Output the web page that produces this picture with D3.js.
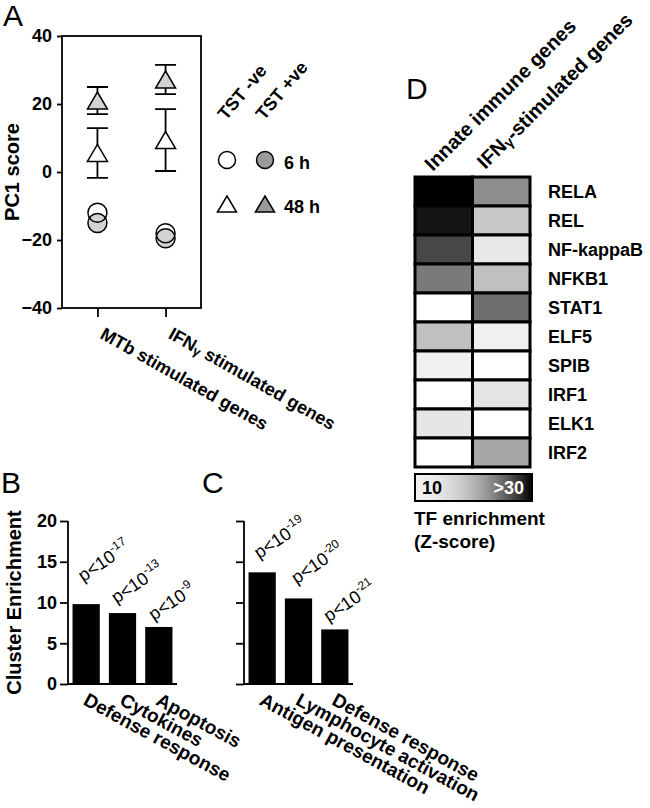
<!DOCTYPE html>
<html><head><meta charset="utf-8">
<script src="https://cdn.jsdelivr.net/npm/d3@7"></script>
<style>body{margin:0;background:#fff}svg{display:block}</style>
</head><body><svg id="c" width="650" height="808"></svg>
<script>
// ---------- Panel A data ----------
const groupsA = ["MTb stimulated genes", "IFNγ stimulated genes"];
const neg6h = [-12, -18];
const pos6h = [-15, -19.5];
const neg48h = [5.6, 9.4];
const neg48hErr = [7.3, 9.1];
const pos48h = [21, 27.2];
const pos48hErr = [4, 4.3];
const ticksA = [-40, -20, 0, 20, 40];
const legendCols = ["TST -ve", "TST +ve"];
const legendRows = ["6 h", "48 h"];

// ---------- Panel B / C data ----------
const catsB = ["Defense response", "Cytokines", "Apoptosis"];
const valsB = [9.8, 8.7, 7.0];
const pExpB = ["-17", "-13", "-9"];
const catsC = ["Antigen presentation", "Lymphocyte activation", "Defense response"];
const valsC = [13.7, 10.5, 6.7];
const pExpC = ["-19", "-20", "-21"];
const ticksBC = [0, 5, 10, 15, 20];

// ---------- Panel D data ----------
const tfs = ["RELA", "REL", "NF-kappaB", "NFKB1", "STAT1", "ELF5", "SPIB", "IRF1", "ELK1", "IRF2"];
const geneSets = ["Innate immune genes", "IFNγ-stimulated genes"];
const zInnate = [32, 29.1, 26.8, 24.0, 5, 18.9, 10, 5, 14.1, 5];
const zIfng = [22.8, 18.2, 13.7, 18.9, 24.7, 10, 5, 14.5, 5, 21];
const legendTicks = ["10", ">30"];

// ---------- drawing ----------
const F = '"Liberation Sans", Arial, Helvetica, sans-serif';
const svg = d3.select("#c").attr("font-family", F);
const SW = 1.8;

function richText(sel, str, size) {
  const parts = str.split("γ");
  sel.append("tspan").text(parts[0]);
  if (parts.length > 1) {
    sel.append("tspan").attr("font-size", size * 0.72).attr("dy", size * 0.1).text("γ");
    sel.append("tspan").attr("dy", -size * 0.1).text(parts[1]);
  }
}
function tri(cx, cy, w, h) {
  return `M${cx - w / 2},${cy + h / 2}L${cx},${cy - h / 2}L${cx + w / 2},${cy + h / 2}Z`;
}
function panelLabel(t, x, y) {
  svg.append("text").attr("x", x).attr("y", y).attr("font-size", 30).attr("fill", "#000").text(t);
}

// ===== Panel A =====
panelLabel("A", 3, 26);
const yA = d3.scaleLinear().domain([-40, 40]).range([308, 36]);
const xA = d3.scalePoint().domain(groupsA).range([62, 201]).padding(0.52);
const gA = svg.append("g");
const [ax0, ax1] = xA.range();
gA.append("rect").attr("x", ax0).attr("y", yA(40)).attr("width", ax1 - ax0)
  .attr("height", yA(-40) - yA(40)).attr("fill", "none").attr("stroke", "#000").attr("stroke-width", SW);
const axA = gA.append("g").attr("transform", `translate(${ax0},0)`)
  .call(d3.axisLeft(yA).tickValues(ticksA).tickSize(5).tickPadding(5));
axA.attr("font-family", F).attr("font-size", 18).attr("font-weight", "bold");
axA.select(".domain").remove();
axA.selectAll("line").attr("stroke", "#000").attr("stroke-width", SW);
axA.selectAll("text").attr("fill", "#000");
const axAb = gA.append("g").attr("transform", `translate(0,${yA(-40)})`)
  .call(d3.axisBottom(xA).tickSize(9).tickFormat(""));
axAb.select(".domain").remove();
axAb.selectAll("line").attr("stroke", "#000").attr("stroke-width", SW);
groupsA.forEach(d => {
  const t = gA.append("text").attr("transform", `translate(${xA(d)},${yA(-40)}) rotate(29.5)`)
    .attr("x", 16).attr("y", 25).attr("font-size", 18).attr("font-weight", "bold");
  richText(t, d, 18);
});
gA.append("text").attr("transform", `translate(19,${(yA(40) + yA(-40)) / 2}) rotate(-90)`)
  .attr("text-anchor", "middle").attr("font-size", 20).attr("font-weight", "bold").text("PC1 score");

const greyPlot = "#d3d3d3", greyLeg = "#9a9a9a";
gA.selectAll(".cp").data(groupsA).join("circle").attr("cx", d => xA(d)).attr("cy", (d, i) => yA(pos6h[i]))
  .attr("r", 9.5).attr("fill", greyPlot).attr("stroke", "#000").attr("stroke-width", 1.5);
gA.selectAll(".cn").data(groupsA).join("circle").attr("cx", d => xA(d)).attr("cy", (d, i) => yA(neg6h[i]))
  .attr("r", 9.5).attr("fill", "none").attr("stroke", "#000").attr("stroke-width", 1.5);
function errBars(means, errs) {
  groupsA.forEach((d, i) => {
    const x = xA(d), lo = yA(means[i] - errs[i]), hi = yA(means[i] + errs[i]);
    gA.append("path").attr("d", `M${x},${lo}L${x},${hi}M${x - 10.5},${lo}L${x + 10.5},${lo}M${x - 10.5},${hi}L${x + 10.5},${hi}`)
      .attr("stroke", "#000").attr("stroke-width", SW).attr("fill", "none");
  });
}
errBars(neg48h, neg48hErr);
errBars(pos48h, pos48hErr);
gA.selectAll(".tn").data(groupsA).join("path").attr("d", (d, i) => tri(xA(d), yA(neg48h[i]), 20, 17))
  .attr("fill", "#fff").attr("stroke", "#000").attr("stroke-width", 1.5);
gA.selectAll(".tp").data(groupsA).join("path").attr("d", (d, i) => tri(xA(d), yA(pos48h[i]), 20, 17))
  .attr("fill", greyPlot).attr("stroke", "#000").attr("stroke-width", 1.5);

const lx = [227, 265], ly = [160, 204];
legendCols.forEach((t, i) => {
  svg.append("text").attr("transform", `translate(${lx[i] - 1},121) rotate(-50)`)
    .attr("font-size", 18).attr("font-weight", "bold").text(t);
});
lx.forEach((x, i) => {
  svg.append("circle").attr("cx", x).attr("cy", ly[0]).attr("r", 8.5)
    .attr("fill", i ? greyLeg : "#fff").attr("stroke", "#000").attr("stroke-width", 1.5);
  svg.append("path").attr("d", tri(x, ly[1], 19, 16))
    .attr("fill", i ? greyLeg : "#fff").attr("stroke", "#000").attr("stroke-width", 1.5);
});
legendRows.forEach((t, i) => {
  svg.append("text").attr("x", 284).attr("y", ly[i] + 9).attr("font-size", 18).attr("font-weight", "bold").text(t);
});

// ===== Panels B & C =====
function barPanel(cats, vals, exps, x0, x1, showLabels, pOff) {
  const y = d3.scaleLinear().domain([0, 20]).range([684, 521]);
  const x = d3.scaleBand().domain(cats).range([x0, x1]).paddingInner(0.25).paddingOuter(0.125);
  const g = svg.append("g");
  const ax = g.append("g").attr("transform", `translate(${x0},0)`)
    .call(d3.axisLeft(y).tickValues(ticksBC).tickSize(8).tickPadding(3).tickFormat(showLabels ? d3.format("d") : ""));
  ax.attr("font-family", F).attr("font-size", 18).attr("font-weight", "bold");
  ax.select(".domain").attr("d", `M0,${y(20)}V${y(0)}`).attr("stroke", "#000").attr("stroke-width", SW);
  ax.selectAll("line").attr("stroke", "#000").attr("stroke-width", SW);
  ax.selectAll("text").attr("fill", "#000");
  g.append("line").attr("x1", x0).attr("x2", x1).attr("y1", y(0)).attr("y2", y(0))
    .attr("stroke", "#000").attr("stroke-width", SW);
  g.selectAll(".bar").data(cats).join("rect").attr("x", d => x(d)).attr("width", x.bandwidth())
    .attr("y", (d, i) => y(vals[i])).attr("height", (d, i) => y(0) - y(vals[i])).attr("fill", "#000");
  cats.forEach((d, i) => {
    const cx = x(d) + x.bandwidth() / 2;
    g.append("text").attr("transform", `translate(${cx},${y(0)}) rotate(28.5)`)
      .attr("x", 6).attr("y", 19.5).attr("font-size", 19).attr("font-weight", "bold").text(d);
    const t = g.append("text").attr("transform", `translate(${cx + pOff[i][0]},${y(vals[i]) + pOff[i][1]}) rotate(-34)`)
      .attr("font-size", 18);
    t.append("tspan").text("p<10");
    t.append("tspan").attr("font-size", 12).attr("dy", -8).text(exps[i]);
  });
  return y;
}
panelLabel("B", 1, 493);
panelLabel("C", 202, 493);
const yB = barPanel(catsB, valsB, pExpB, 68, 177, true, [[-3, -22], [-6, -9], [-5, -6]]);
barPanel(catsC, valsC, pExpC, 244, 353, false, [[-3, -13], [-2, -14], [-6, -7]]);
svg.append("text").attr("transform", `translate(21,${(yB(0) + yB(20)) / 2}) rotate(-90)`)
  .attr("text-anchor", "middle").attr("font-size", 20).attr("font-weight", "bold").text("Cluster Enrichment");

// ===== Panel D =====
panelLabel("D", 406, 99);
const xD = d3.scaleBand().domain(geneSets).range([415, 530]);
const yD = d3.scaleBand().domain(tfs).range([177, 467]);
const tz = d3.scaleLinear().domain([10, 30]).range([0, 1]).clamp(true);
function cellColor(z) {
  if (z < 10) return "#fff";
  const g = Math.round(240 * (1 - Math.pow(tz(z), 2)));
  return d3.rgb(g, g, g).formatHex();
}
const gD = svg.append("g");
[zInnate, zIfng].forEach((col, j) => {
  gD.selectAll(".c" + j).data(tfs).join("rect")
    .attr("x", xD(geneSets[j])).attr("width", xD.bandwidth())
    .attr("y", d => yD(d)).attr("height", yD.bandwidth())
    .attr("fill", (d, i) => cellColor(col[i])).attr("stroke", "#000").attr("stroke-width", 3);
});
tfs.forEach(d => {
  gD.append("text").attr("x", 548).attr("y", yD(d) + yD.bandwidth() / 2 + 6.5)
    .attr("font-size", 18).attr("font-weight", "bold").text(d);
});
const hdrOff = [[-11, 172], [-16, 170]];
geneSets.forEach((d, i) => {
  const t = gD.append("text").attr("transform", `translate(${xD(d) + xD.bandwidth() / 2 + hdrOff[i][0]},${hdrOff[i][1]}) rotate(-45)`)
    .attr("font-size", 20).attr("font-weight", "bold");
  richText(t, d, 20);
});
const defs = svg.append("defs");
const grad = defs.append("linearGradient").attr("id", "gz");
d3.range(0, 1.0001, 0.05).forEach(p => {
  grad.append("stop").attr("offset", p).attr("stop-color", cellColor(10 + 20 * p));
});
gD.append("rect").attr("x", 415).attr("y", 474).attr("width", 117).attr("height", 27)
  .attr("fill", "url(#gz)").attr("stroke", "#000").attr("stroke-width", 2);
gD.append("text").attr("x", 422).attr("y", 494).attr("font-size", 18).attr("font-weight", "bold").text(legendTicks[0]);
gD.append("text").attr("x", 524).attr("y", 494).attr("text-anchor", "end").attr("fill", "#fff")
  .attr("font-size", 18).attr("font-weight", "bold").text(legendTicks[1]);
gD.append("text").attr("x", 414).attr("y", 525).attr("font-size", 19).attr("font-weight", "bold").text("TF enrichment");
gD.append("text").attr("x", 414).attr("y", 548).attr("font-size", 19).attr("font-weight", "bold").text("(Z-score)");
</script>
</body></html>
